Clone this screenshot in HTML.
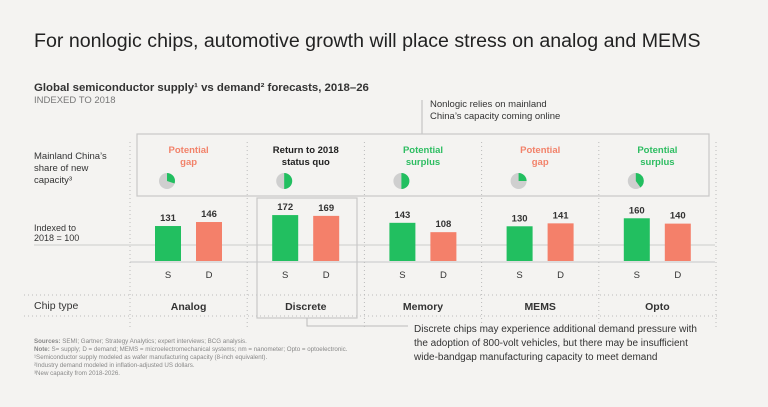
<!DOCTYPE html>
<html><head><meta charset="utf-8"><style>
body{margin:0;background:#f4f3f1;font-family:"Liberation Sans",sans-serif;}
svg text{font-family:"Liberation Sans",sans-serif;}
</style></head><body>
<svg id="c" width="768" height="402" viewBox="0 0 768 402" xmlns="http://www.w3.org/2000/svg">
<rect width="768" height="402" fill="#f4f3f1"/>
<text x="34" y="47" font-size="19.6" fill="#222">For nonlogic chips, automotive growth will place stress on analog and MEMS</text>
<text x="34" y="91" font-size="11.4" font-weight="bold" fill="#333">Global semiconductor supply¹ vs demand² forecasts, 2018–26</text>
<text x="34" y="103" font-size="9.5" fill="#777">INDEXED TO 2018</text>
<line x1="422" y1="100" x2="422" y2="134" stroke="#bbb"/>
<text x="430" y="107" font-size="9.5" fill="#333">Nonlogic relies on mainland</text>
<text x="430" y="119" font-size="9.5" fill="#333">China’s capacity coming online</text>
<rect x="137" y="134" width="572" height="62" fill="none" stroke="#c8c8c8" stroke-width="1.2"/>
<text x="34" y="159" font-size="9.5" fill="#333">Mainland China’s</text>
<text x="34" y="171" font-size="9.5" fill="#333">share of new</text>
<text x="34" y="183" font-size="9.5" fill="#333">capacity³</text>
<text x="34" y="231" font-size="9" fill="#333">Indexed to</text>
<text x="34" y="241" font-size="9" fill="#333">2018 = 100</text>
<line x1="34" y1="245" x2="715" y2="245" stroke="#ccc"/>
<line x1="130" y1="262" x2="715" y2="262" stroke="#ddd" stroke-width="2"/>
<line x1="24" y1="295" x2="718" y2="295" stroke="#bbb" stroke-dasharray="1,3"/>
<line x1="24" y1="316" x2="718" y2="316" stroke="#bbb" stroke-dasharray="1,3"/>
<text x="34" y="309" font-size="10.5" fill="#333">Chip type</text>
<rect x="257" y="198" width="100" height="120" fill="none" stroke="#c8c8c8" stroke-width="1.2"/>
<polyline points="307,318 307,326 408,326" fill="none" stroke="#bbb"/>
<text x="414" y="332" font-size="10" fill="#333">Discrete chips may experience additional demand pressure with</text>
<text x="414" y="346" font-size="10" fill="#333">the adoption of 800-volt vehicles, but there may be insufficient</text>
<text x="414" y="360" font-size="10" fill="#333">wide-bandgap manufacturing capacity to meet demand</text>
<g font-size="6.2" fill="#888">
<text x="34" y="343"><tspan font-weight="bold">Sources:</tspan> SEMI; Gartner; Strategy Analytics; expert interviews; BCG analysis.</text>
<text x="34" y="351"><tspan font-weight="bold">Note:</tspan> S= supply; D = demand; MEMS = microelectromechanical systems; nm = nanometer; Opto = optoelectronic.</text>
<text x="34" y="359">¹Semiconductor supply modeled as wafer manufacturing capacity (8-inch equivalent).</text>
<text x="34" y="367">²Industry demand modeled in inflation-adjusted US dollars.</text>
<text x="34" y="375">³New capacity from 2018-2026.</text>
</g>
<g id="cols"></g>
</svg>
<script>
const categories=["Analog","Discrete","Memory","MEMS","Opto"];
const supply=[131,172,143,130,160];
const demand=[146,169,108,141,140];
const chinaShare=[0.30,0.50,0.50,0.25,0.40];
const outlook=["Potential|gap","Return to 2018|status quo","Potential|surplus","Potential|gap","Potential|surplus"];
const outlookType=["gap","neutral","surplus","gap","surplus"];
const NS="http://www.w3.org/2000/svg";
const g=document.getElementById('cols');
const colX=i=>130+i*117.2;
const yBase=261, k=0.267;
const y=v=>yBase-v*k;
function mk(t,a){const e=document.createElementNS(NS,t);for(const n in a)e.setAttribute(n,a[n]);g.appendChild(e);return e;}
const colr={gap:"#f2826a",surplus:"#2ebd62",neutral:"#222"};
for(let i=0;i<=5;i++){const l=mk('line',{x1:colX(i),x2:colX(i),y1:142,y2:330,stroke:"#bbb","stroke-dasharray":"1,3"});

}
categories.forEach((c,i)=>{
 const x0=colX(i),cx=x0+58.6;
 const sx=x0+25, dx=x0+66;
 const bs=mk('rect',{x:sx,y:y(supply[i]),width:26,height:supply[i]*k,fill:"#22bf60"});
 
 
 const bd=mk('rect',{x:dx,y:y(demand[i]),width:26,height:demand[i]*k,fill:"#f4806a"});
 
 
 [[sx,supply[i]],[dx,demand[i]]].forEach(([bx,v],j)=>{
  const t=mk('text',{x:bx+13,y:y(v)-5,"font-size":"9.5","font-weight":"bold",fill:"#333","text-anchor":"middle"});t.textContent=v;
  
  
  const s=mk('text',{x:bx+13,y:278,"font-size":"9.5",fill:"#333","text-anchor":"middle"});s.textContent=j?"D":"S";
  
  
 });
 const ct=mk('text',{x:cx,y:310,"font-size":"10.5","font-weight":"bold",fill:"#333","text-anchor":"middle"});ct.textContent=c;
 
 
 outlook[i].split('|').forEach((ln,j)=>{
  const t=mk('text',{x:cx,y:153+j*12,"font-size":"9.5","font-weight":"bold",fill:colr[outlookType[i]],"text-anchor":"middle"});t.textContent=ln;
  
  
 });
 const px=x0+37,py=181,r=8,f=chinaShare[i];
 const pc=mk('circle',{cx:px,cy:py,r:r,fill:"#cfcfcf"});
 
 
 const a=f*2*Math.PI,ex=px+r*Math.sin(a),ey=py-r*Math.cos(a);
 const ps=mk('path',{d:`M${px},${py} L${px},${py-r} A${r},${r} 0 ${f>0.5?1:0} 1 ${ex},${ey} Z`,fill:"#22bf60"});
 
 
});
</script>
</body></html>
